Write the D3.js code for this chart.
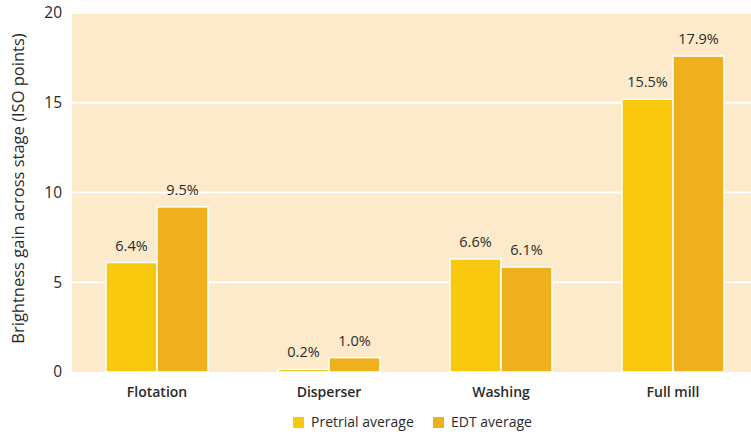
<!DOCTYPE html>
<html>
<head>
<meta charset="utf-8">
<script src="https://cdn.jsdelivr.net/npm/d3@7/dist/d3.min.js"></script>
<style>
  body { margin: 0; background: #fff; }
  svg { display: block; font-family: "Open Sans", "Noto Sans", sans-serif; }
</style>
</head>
<body>
<svg id="chart" width="751" height="440"></svg>
<script>
// ---- data ----
const categories = ["Flotation", "Disperser", "Washing", "Full mill"];
const seriesNames = ["Pretrial average", "EDT average"];
const pretrialValues = [6.1, 0.15, 6.3, 15.2];
const edtValues = [9.2, 0.8, 5.85, 17.6];
const pretrialLabels = ["6.4%", "0.2%", "6.6%", "15.5%"];
const edtLabels = ["9.5%", "1.0%", "6.1%", "17.9%"];
const yTicks = [0, 5, 10, 15, 20];
const yTitle = "Brightness gain across stage (ISO points)";

const colors = ["#F8C80F", "#EFB01E"];
const bgColor = "#FCEACA";
const textColor = "#2a2a2a";

const svg = d3.select("#chart");
const plotLeft = 72, plotRight = 751;

const y = d3.scaleLinear().domain([0, 20]).range([372, 13]);
const x0 = d3.scaleBand().domain(categories).range([71, 759])
  .paddingInner(0.407).paddingOuter(0.2035);
const x1 = d3.scaleBand().domain(seriesNames).range([0, x0.bandwidth()]).padding(0);

// background
svg.append("rect")
  .attr("x", plotLeft).attr("y", y(20) + 1)
  .attr("width", plotRight - plotLeft).attr("height", y(0) - y(20) - 1)
  .attr("fill", bgColor);

// gridlines
svg.append("g").selectAll("line")
  .data(yTicks.filter(d => d > 0 && d < 20))
  .join("line")
  .attr("x1", plotLeft).attr("x2", plotRight)
  .attr("y1", d => y(d)).attr("y2", d => y(d))
  .attr("stroke", "#ffffff").attr("stroke-width", 2);

// y axis (labels only)
const yAxis = d3.axisLeft(y).tickValues(yTicks).tickSize(0).tickPadding(0);
const gy = svg.append("g").attr("transform", "translate(62,0)").call(yAxis);
gy.select(".domain").remove();
gy.selectAll("text")
  .attr("font-size", 15.5).attr("fill", textColor)
  .attr("font-family", "'Open Sans', sans-serif");

// y title
svg.append("text")
  .attr("transform", `translate(24,${(y(0) + y(20)) / 2 - 4}) rotate(-90)`)
  .attr("text-anchor", "middle")
  .attr("font-size", 16.5).attr("font-weight", 500).attr("fill", textColor)
  .text(yTitle);

// bars
const rows = categories.map((c, i) => ({
  cat: c,
  items: [
    { s: seriesNames[0], v: pretrialValues[i], label: pretrialLabels[i], color: colors[0] },
    { s: seriesNames[1], v: edtValues[i], label: edtLabels[i], color: colors[1] }
  ]
}));

const groups = svg.append("g").selectAll("g")
  .data(rows).join("g")
  .attr("transform", d => `translate(${x0(d.cat)},0)`);

groups.selectAll("rect")
  .data(d => d.items).join("rect")
  .attr("x", d => x1(d.s))
  .attr("y", d => y(d.v))
  .attr("width", x1.bandwidth())
  .attr("height", d => y(0) - y(d.v))
  .attr("fill", d => d.color)
  .attr("stroke", "#ffffff").attr("stroke-width", 1.5);

groups.selectAll("text.val")
  .data(d => d.items).join("text")
  .attr("class", "val")
  .attr("x", d => x1(d.s) + x1.bandwidth() / 2)
  .attr("y", d => y(d.v) - 12)
  .attr("text-anchor", "middle")
  .attr("font-size", 14.5).attr("fill", textColor)
  .text(d => d.label);

// x axis labels
const xAxis = d3.axisBottom(x0).tickSize(0).tickPadding(0);
const gx = svg.append("g").attr("transform", `translate(0,${y(0) + 15})`).call(xAxis);
gx.select(".domain").remove();
gx.selectAll("text")
  .attr("font-size", 14).attr("fill", textColor)
  .attr("font-family", "'Open Sans', sans-serif")
  .attr("font-weight", 600);

// legend
const legendItems = [
  { name: seriesNames[0], color: colors[0], x: 293 },
  { name: seriesNames[1], color: colors[1], x: 433 }
];
const lg = svg.append("g").selectAll("g").data(legendItems).join("g")
  .attr("transform", d => `translate(${d.x},417)`);
lg.append("rect").attr("width", 11).attr("height", 11).attr("fill", d => d.color);
lg.append("text").attr("x", 18).attr("y", 10)
  .attr("font-size", 14).attr("fill", textColor).text(d => d.name);
</script>
</body>
</html>
